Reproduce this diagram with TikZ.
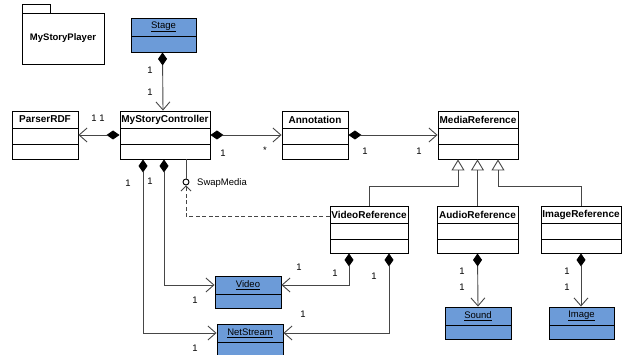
\documentclass[tikz,border=0pt]{standalone}
\usepackage{fontspec}
\setmainfont{Liberation Sans}
\usetikzlibrary{arrows.meta}

\definecolor{objblue}{RGB}{108,155,216}
\definecolor{linkgray}{RGB}{70,70,70}

% class with three compartments: name, left, top, right, bottom, title
\newcommand{\umlclass}[6]{%
  \node[classbox, minimum width={(#4-#2)*1pt}, minimum height={(#5-#3)*1pt}] (#1) at ({(#2+#4)/2},{(#3+#5)/2}) {};
  \node[font=\bfseries] (#1-title) at ({(#2+#4)/2},{#3+8.5}) {#6};
  \draw (#2,#3+17) -- (#4,#3+17);
  \draw (#2,#3+33) -- (#4,#3+33);
}
% object with two compartments: name, left, top, right, bottom, title
\newcommand{\umlobject}[6]{%
  \node[classbox, fill=objblue, minimum width={(#4-#2)*1pt}, minimum height={(#5-#3)*1pt}] (#1) at ({(#2+#4)/2},{(#3+#5)/2}) {};
  \node (#1-title) at ({(#2+#4)/2},{#3+9}) {\underline{#6}};
  \draw (#2,#3+18) -- (#4,#3+18);
}

\begin{document}
\begin{tikzpicture}[x=1pt,y=-1pt,
    every node/.style={font=\fontsize{9.5}{11}\selectfont, inner sep=0pt},
    classbox/.style={draw, fill=white, line width=0.9pt},
    link/.style={draw=linkgray, line width=0.9pt},
    comp/.style={link, {Diamond[length=13pt,width=9pt,color=black]}-{Straight Barb[length=8pt,width=14pt]}},
    inherit/.style={link, -{Triangle[open,length=11pt,width=13pt,fill=white]}}]
    \useasboundingbox (0,0) rectangle (622,355);

    % draw package
    \draw[line width=0.9pt] (22,13) rectangle (50,4);
    \node[draw, line width=0.9pt, minimum width=82pt, minimum height=51pt, font=\fontsize{9.5}{11}\selectfont\bfseries] (player) at (63,38.5) {MyStoryPlayer};

    % draw classes
    \umlobject{stage}{131}{18}{196}{52}{Stage}
    \umlclass{parser}{12}{111}{78}{159}{ParserRDF}
    \umlclass{ctrl}{120}{111}{210}{159}{MyStoryController}
    \umlclass{annot}{282}{111}{348}{159}{Annotation}
    \umlclass{media}{438}{111}{518}{159}{MediaReference}
    \umlclass{videoref}{330}{206}{408}{253}{VideoReference}
    \umlclass{audioref}{437}{206}{518}{253}{AudioReference}
    \umlclass{imageref}{541}{206}{621}{253}{ImageReference}
    \umlobject{video}{215}{276}{281}{308}{Video}
    \umlobject{netstream}{217}{324}{283}{362}{NetStream}
    \umlobject{sound}{445}{307}{511}{339}{Sound}
    \umlobject{image}{549}{307}{614}{339}{Image}

    % draw compositions
    \draw[comp] ([xshift=-1pt]stage.south) -- ([xshift=-2pt]ctrl.north);
    \draw[comp] (ctrl.west) -- (parser.east);
    \draw[comp] (ctrl.east) -- (annot.west);
    \draw[comp] (annot.east) -- (media.west);
    \draw[comp] ([xshift=-22pt]ctrl.south) |- (netstream.west |- netstream-title);
    \draw[comp] ([xshift=-1pt]ctrl.south) |- (video.west |- video-title);
    \draw[comp] ([xshift=-20pt]videoref.south) |- (video.east |- video-title);
    \draw[comp] ([xshift=20pt]videoref.south) |- (netstream.east |- netstream-title);
    \draw[comp] (audioref.south) -- (sound.north);
    \draw[comp] (imageref.south) -- (imageref.south |- image.north);

    % draw generalisations
    \coordinate (bus) at (0,186);
    \draw[inherit] (videoref.north) -- (videoref.north |- bus) -| ([xshift=-20pt]media.south);
    \draw[inherit] (audioref.north) -- (audioref.north |- media.south);
    \draw[inherit] (imageref.north) -- (imageref.north |- bus) -| ([xshift=20pt]media.south);

    % draw required interface
    \node[draw, circle, line width=0.9pt, minimum size=6pt] (swap) at (186,182) {};
    \node[anchor=west] (swaplabel) at (197,183) {SwapMedia};
    \draw[link] (ctrl.south -| swap) -- (swap.north);
    \draw[link, dashed, dash pattern=on 4pt off 2.5pt, -{Straight Barb[length=5pt,width=10pt]}]
        ([yshift=-11pt]videoref.north west) -| (swap.south);

    % draw multiplicities
    \foreach \px/\py/\t [count=\i] in {150/70/1, 150/92/1, 94/118/1, 102/118/1,
        223/153/1, 265/150/*, 365/151/1, 419/151/1, 128/183/1, 150/181/1,
        195/300/1, 299/267/1, 335/273/1, 374/276/1, 303/314/1, 195/348/1,
        462/271/1, 462/287/1, 567/271/1, 567/287/1}
    \node (mult\i) at (\px,\py) {\t};
\end{tikzpicture}
\end{document}
